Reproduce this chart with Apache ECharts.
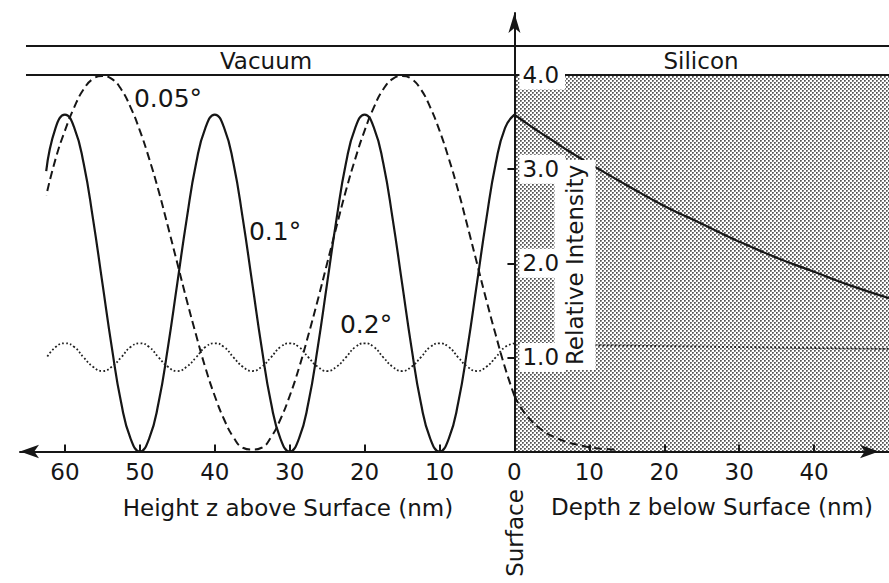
<!DOCTYPE html>
<html>
<head>
<meta charset="utf-8">
<script src="https://cdn.jsdelivr.net/npm/echarts@6/dist/echarts.min.js"></script>
<style>
  html, body { margin: 0; padding: 0; background: #fff; }
  #chart { width: 889px; height: 583px; }
</style>
</head>
<body>
<div id="chart"></div>
<script>
// Height z above the surface (nm), shared by the three vacuum-side curves
const vacuumZ = [0, 1.25, 2.5, 3.75, 5, 6.25, 7.5, 8.75, 10, 11.25, 12.5, 13.75, 15, 16.25, 17.5, 18.75,
  20, 21.25, 22.5, 23.75, 25, 26.25, 27.5, 28.75, 30, 31.25, 32.5, 33.75, 35, 36.25, 37.5, 38.75,
  40, 41.25, 42.5, 43.75, 45, 46.25, 47.5, 48.75, 50, 51.25, 52.5, 53.75, 55, 56.25, 57.5, 58.75,
  60, 61.25, 62.5];

// 0.1 deg incidence, relative intensity in vacuum
const intensity01Vacuum = [3.58, 3.44, 3.06, 2.47, 1.79, 1.11, 0.52, 0.14, 0.00, 0.14, 0.52, 1.11, 1.79, 2.47, 3.06, 3.44,
  3.58, 3.44, 3.06, 2.47, 1.79, 1.11, 0.52, 0.14, 0.00, 0.14, 0.52, 1.11, 1.79, 2.47, 3.06, 3.44,
  3.58, 3.44, 3.06, 2.47, 1.79, 1.11, 0.52, 0.14, 0.00, 0.14, 0.52, 1.11, 1.79, 2.47, 3.06, 3.44,
  3.58, 3.44, 2.98];

// 0.05 deg incidence, relative intensity in vacuum
const intensity005Vacuum = [0.59, 0.89, 1.24, 1.61, 2.00, 2.39, 2.77, 3.11, 3.41, 3.66, 3.85, 3.96, 3.99, 3.96, 3.85, 3.66,
  3.41, 3.11, 2.77, 2.39, 2.00, 1.61, 1.24, 0.89, 0.59, 0.34, 0.15, 0.04, 0.02, 0.04, 0.15, 0.34,
  0.59, 0.89, 1.24, 1.61, 2.00, 2.39, 2.77, 3.11, 3.41, 3.66, 3.85, 3.96, 3.99, 3.96, 3.85, 3.66,
  3.41, 3.11, 2.72];

// 0.2 deg incidence, relative intensity in vacuum
const intensity02Vacuum = [1.15, 1.11, 1.00, 0.90, 0.855, 0.90, 1.00, 1.11, 1.15, 1.11, 1.00, 0.90, 0.855, 0.90, 1.00, 1.11,
  1.15, 1.11, 1.00, 0.90, 0.855, 0.90, 1.00, 1.11, 1.15, 1.11, 1.00, 0.90, 0.855, 0.90, 1.00, 1.11,
  1.15, 1.11, 1.00, 0.90, 0.855, 0.90, 1.00, 1.11, 1.15, 1.11, 1.00, 0.90, 0.855, 0.90, 1.00, 1.11,
  1.15, 1.11, 0.99];

// Depth z below the surface (nm) and intensities inside silicon
const siliconZ01 = [0, 2.5, 5, 7.5, 10, 15, 20, 25, 30, 35, 40, 45, 50];
const intensity01Silicon = [3.58, 3.44, 3.31, 3.18, 3.06, 2.83, 2.61, 2.42, 2.23, 2.06, 1.91, 1.76, 1.63];

const siliconZ005 = [0, 1, 2, 3, 4, 5, 6, 7, 8, 10, 12, 14];
const intensity005Silicon = [0.59, 0.45, 0.35, 0.27, 0.21, 0.165, 0.13, 0.10, 0.08, 0.045, 0.028, 0.015];

const siliconZ02 = [0, 5, 10, 20, 30, 40, 50];
const intensity02Silicon = [1.15, 1.135, 1.13, 1.12, 1.11, 1.10, 1.09];

// Tick positions: negative = height above the surface, positive = depth below it
const xTickValues = [-60, -50, -40, -30, -20, -10, 0, 10, 20, 30, 40];
const yTickValues = [1, 2, 3, 4];

const curveNames = ['0.05°', '0.1°', '0.2°'];
const regionNames = ['Vacuum', 'Silicon'];
const axisTitles = ['Height z above Surface (nm)', 'Depth z below Surface (nm)', 'Surface', 'Relative Intensity'];

// Extent of the plot, the silicon slab and the header band
const X_MIN = -66, X_MAX = 50, Y_MAX = 4.66;
const SLAB_TOP = 4.0, BAND_TOP = 4.31, BAND_LEFT = -65.2;
const GRID_LEFT = 20, GRID_RIGHT = 0;

const INK = '#161616';
const FONT = 'DejaVu Sans';

// vacuum values are plotted to the left of the surface (negative x)
const toVacuum = (zs, vs) => zs.map((z, i) => [-z, vs[i]]);
const toSilicon = (zs, vs) => zs.map((z, i) => [z, vs[i]]);

// stippled fill for the silicon slab: small dark dots on a diagonal lattice
const tile = document.createElement('canvas');
tile.width = 4; tile.height = 4;
const tg = tile.getContext('2d');
tg.fillStyle = '#ffffff'; tg.fillRect(0, 0, 4, 4);
function dot(x, y) {
  tg.fillStyle = '#555555'; tg.fillRect(x, y, 1, 1);
  tg.fillStyle = '#787878'; tg.fillRect(x + 1, y, 1, 1); tg.fillRect(x, y + 1, 1, 1);
  tg.fillStyle = '#aaaaaa'; tg.fillRect(x + 1, y + 1, 1, 1);
}
dot(0, 0); dot(2, 2);
const stipple = { image: tile.toDataURL(), repeat: 'repeat', imageWidth: 4, imageHeight: 4 };

const solidStyle = { color: INK, width: 2.2, type: 'solid' };
const dashedStyle = { color: INK, width: 2, type: [8, 4.5] };
const dottedStyle = { color: '#202020', width: 1.8, type: [1.8, 2.2] };

function curve(data, lineStyle) {
  return {
    type: 'line', data, smooth: true, showSymbol: false, symbol: 'none',
    silent: true, z: 3, lineStyle, animation: false
  };
}

const siliconSolid = curve(toSilicon(siliconZ01, intensity01Silicon), solidStyle);
siliconSolid.markArea = {
  silent: true, z: 1,
  itemStyle: { color: stipple },
  data: [[{ coord: [0, 0] }, { coord: [X_MAX, SLAB_TOP] }]]
};
siliconSolid.markLine = {
  silent: true, symbol: ['none', 'none'], label: { show: false },
  lineStyle: { type: 'solid', color: INK, width: 1.8 },
  data: [
    [{ coord: [BAND_LEFT, BAND_TOP] }, { coord: [X_MAX, BAND_TOP] }],
    [{ coord: [BAND_LEFT, SLAB_TOP] }, { coord: [X_MAX, SLAB_TOP] }]
  ]
};

function txt(text, x, y, size, extra) {
  extra = extra || {};
  return {
    type: 'text', x, y, z: extra.z || 100, silent: true, rotation: extra.rotation || 0,
    style: Object.assign({
      text, fill: INK, fontFamily: FONT, fontSize: size,
      align: 'center', verticalAlign: 'middle',
      textAlign: 'center', textVerticalAlign: 'middle'
    }, extra.style || {})
  };
}

const chart = echarts.init(document.getElementById('chart'), null, { renderer: 'svg' });
const gridWidth = 889 - GRID_LEFT - GRID_RIGHT;
// the vertical axis sits on the surface (x = 0)
const surfaceOffset = -gridWidth * (0 - X_MIN) / (X_MAX - X_MIN);

chart.setOption({
  animation: false,
  backgroundColor: '#fff',
  grid: { left: GRID_LEFT, right: GRID_RIGHT, top: 13, bottom: 131.5 },
  xAxis: {
    type: 'value', min: X_MIN, max: X_MAX, z: 10,
    axisLine: {
      onZero: true, symbol: ['arrow', 'arrow'], symbolSize: [10, 19], symbolOffset: [0, -10],
      lineStyle: { color: INK, width: 2 }
    },
    axisTick: { inside: true, length: 7, customValues: xTickValues, lineStyle: { color: INK, width: 2 } },
    axisLabel: {
      customValues: xTickValues, margin: 9,
      formatter: v => String(Math.abs(v)),
      fontFamily: FONT, fontSize: 23, color: INK
    },
    splitLine: { show: false }
  },
  yAxis: {
    type: 'value', min: 0, max: Y_MAX, interval: 1, z: 10,
    position: 'left', offset: surfaceOffset,
    axisLine: {
      onZero: false, symbol: ['none', 'arrow'], symbolSize: [9, 20],
      lineStyle: { color: INK, width: 2 }
    },
    axisTick: { inside: false, length: 7, customValues: yTickValues, lineStyle: { color: INK, width: 2 } },
    axisLabel: {
      inside: true, customValues: yTickValues, margin: 5,
      formatter: v => (yTickValues.indexOf(v) >= 0 ? v.toFixed(1) : ''),
      backgroundColor: '#fff', padding: [3, 6, 3, 3],
      fontFamily: FONT, fontSize: 23, color: INK
    },
    splitLine: { show: false }
  },
  series: [
    siliconSolid,
    curve(toVacuum(vacuumZ, intensity01Vacuum), solidStyle),
    curve(toVacuum(vacuumZ, intensity005Vacuum), dashedStyle),
    curve(toSilicon(siliconZ005, intensity005Silicon), dashedStyle),
    curve(toVacuum(vacuumZ, intensity02Vacuum), dottedStyle),
    curve(toSilicon(siliconZ02, intensity02Silicon), dottedStyle)
  ],
  graphic: [
    txt(regionNames[0], 266, 61, 23),
    txt(regionNames[1], 701, 61, 23),
    txt(curveNames[0], 168, 98, 25),
    txt(curveNames[1], 275, 231, 25),
    txt(curveNames[2], 366, 324, 25),
    txt(axisTitles[0], 288, 508, 23),
    txt(axisTitles[1], 712, 507, 23),
    txt(axisTitles[2], 515, 533, 23, { rotation: Math.PI / 2 }),
    // white panel behind the rotated axis title, kept under the tick labels
    txt(axisTitles[3], 575, 265, 23, {
      z: 5, rotation: Math.PI / 2,
      style: { backgroundColor: '#fff', padding: [15, 5, 3, 5] }
    })
  ]
});
</script>
</body>
</html>
